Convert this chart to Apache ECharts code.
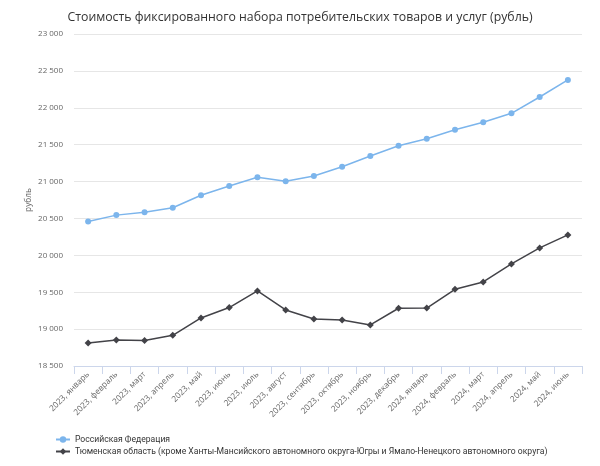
<!DOCTYPE html>
<html>
<head>
<meta charset="utf-8">
<script src="https://cdn.jsdelivr.net/npm/echarts@6/dist/echarts.min.js"></script>
<style>html,body{margin:0;padding:0;background:#fff}#c{width:600px;height:466px}</style>
</head>
<body>
<div id="c"></div>
<script>
const categories = ["2023, январь","2023, февраль","2023, март","2023, апрель","2023, май","2023, июнь","2023, июль","2023, август","2023, сентябрь","2023, октябрь","2023, ноябрь","2023, декабрь","2024, январь","2024, февраль","2024, март","2024, апрель","2024, май","2024, июнь"];
const seriesNames = ["Российская Федерация","Тюменская область (кроме Ханты-Мансийского автономного округа-Югры и Ямало-Ненецкого автономного округа)"];
const rfValues = [20460, 20545, 20583, 20645, 20814, 20940, 21058, 21004, 21075, 21200, 21346, 21486, 21581, 21703, 21803, 21925, 22146, 22377];
const tyumenValues = [18812, 18853, 18845, 18916, 19151, 19292, 19517, 19260, 19138, 19124, 19056, 19283, 19285, 19540, 19639, 19884, 20101, 20277];
const titleText = "Стоимость фиксированного набора потребительских товаров и услуг (рубль)";
const yName = "рубль";

const chart = echarts.init(document.getElementById('c'));
const font = "'Open Sans', sans-serif";
chart.setOption({
  animation: false,
  title: {text: titleText, left: 'center', top: 6, textStyle: {fontFamily: font, fontSize: 12.3, fontWeight: 'normal', color: '#333'}},
  grid: {left: 74, right: 18, top: 34, bottom: 100},
  legend: {
    orient: 'vertical', left: 50, top: 430, itemGap: 3, itemWidth: 14, itemHeight: 8,
    textStyle: {fontFamily: 'Roboto, sans-serif', fontSize: 8.6, color: '#333'},
    data: seriesNames
  },
  xAxis: {
    type: 'category', data: categories, boundaryGap: true,
    axisLine: {lineStyle: {color: '#ccd6eb'}},
    axisTick: {show: true, length: 8, lineStyle: {color: '#ccd6eb'}},
    axisLabel: {rotate: 45, interval: 0, fontFamily: font, fontSize: 8.3, color: '#666', margin: 7}
  },
  yAxis: {
    type: 'value', min: 18500, max: 23000, interval: 500,
    name: yName, nameLocation: 'middle', nameGap: 41, nameRotate: 90, nameMoveOverlap: false,
    nameTextStyle: {fontFamily: font, fontSize: 8.3, color: '#666'},
    axisLine: {show: false}, axisTick: {show: false},
    splitLine: {lineStyle: {color: '#e6e6e6'}},
    axisLabel: {fontFamily: font, fontSize: 8, color: '#666', margin: 11,
      formatter: v => String(v).replace(/\B(?=(\d{3})+(?!\d))/g, ' ')}
  },
  series: [
    {name: seriesNames[0], type: 'line', data: rfValues, symbol: 'circle', symbolSize: 6,
     itemStyle: {color: '#7cb5ec'}, lineStyle: {color: '#7cb5ec', width: 1.5}},
    {name: seriesNames[1], type: 'line', data: tyumenValues, symbol: 'diamond', symbolSize: 7,
     itemStyle: {color: '#434348'}, lineStyle: {color: '#434348', width: 1.5}}
  ]
});
</script>
</body>
</html>
